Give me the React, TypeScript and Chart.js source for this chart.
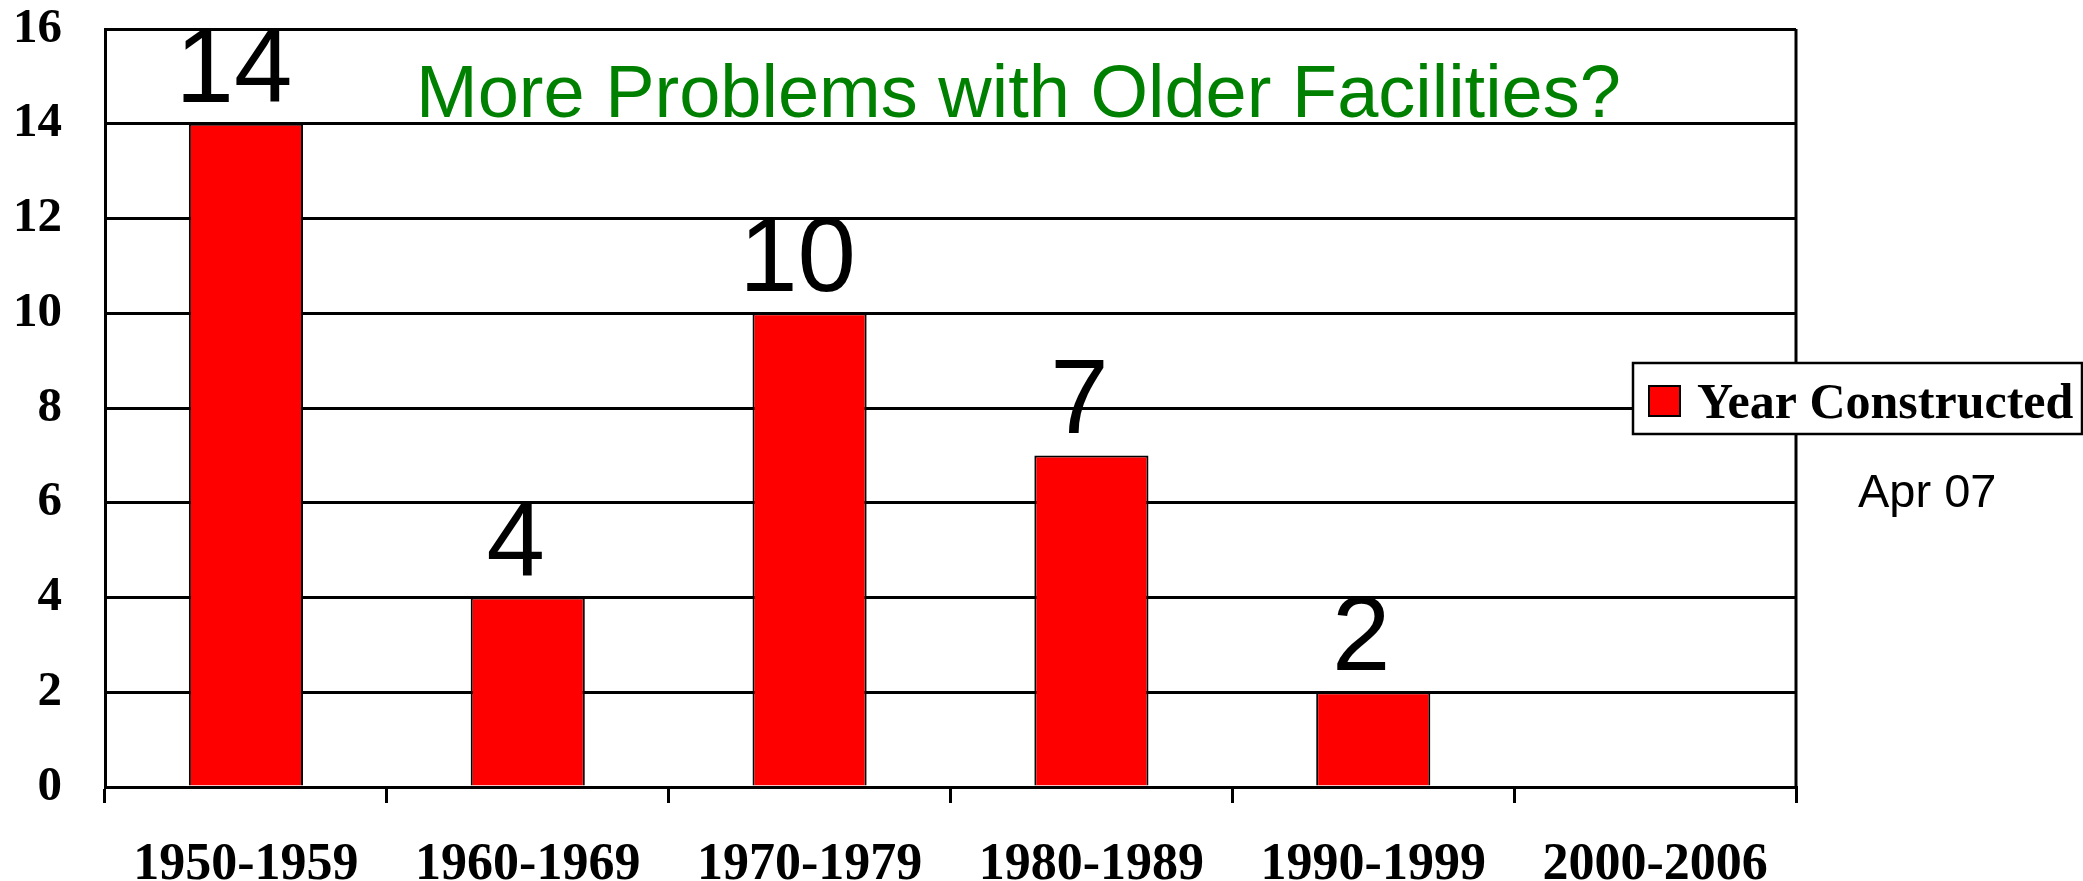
import React, { useEffect, useRef } from "react";
import { Chart, registerables } from "chart.js";

Chart.register(...registerables);

const categories = ["1950-1959", "1960-1969", "1970-1979", "1980-1989", "1990-1999", "2000-2006"];
const seriesLabel = "Year Constructed";
const values = [14, 4, 10, 7, 2, 0];
const yMin = 0;
const yMax = 16;
const yStep = 2;
const titleText = "More Problems with Older Facilities?";
const noteText = "Apr 07";

const W = 2083;
const H = 881;

const overlayPlugin = {
  id: "overlay",
  afterDatasetsDraw(chart: any) {
    const ctx = chart.ctx;
    const meta = chart.getDatasetMeta(0);
    ctx.save();
    ctx.font = '105px "Liberation Sans", Arial, sans-serif';
    ctx.textAlign = "center";
    ctx.textBaseline = "alphabetic";
    ctx.fillStyle = "#000000";
    meta.data.forEach((bar: any, i: number) => {
      const v = values[i];
      if (!v) return;
      ctx.fillText(String(v), bar.x - 12, bar.y - 22);
    });
    ctx.restore();
  },
  afterDraw(chart: any) {
    const ctx = chart.ctx;
    const a = chart.chartArea;
    ctx.save();
    // right border of plot
    ctx.strokeStyle = "#000";
    ctx.lineWidth = 3;
    ctx.beginPath();
    ctx.moveTo(a.right, a.top);
    ctx.lineTo(a.right, a.bottom);
    ctx.stroke();

    // green title
    ctx.font = '74px "Liberation Sans", Arial, sans-serif';
    ctx.fillStyle = "#008000";
    ctx.textAlign = "left";
    ctx.textBaseline = "alphabetic";
    ctx.fillText(titleText, 416, 117);

    // legend
    const lx = 1633, ly = 363, lw = 449, lh = 71;
    ctx.fillStyle = "#ffffff";
    ctx.fillRect(lx, ly, lw, lh);
    ctx.strokeStyle = "#000";
    ctx.lineWidth = 2.5;
    ctx.strokeRect(lx, ly, lw, lh);
    const ds = chart.data.datasets[0];
    ctx.fillStyle = ds.backgroundColor;
    ctx.fillRect(1649, 386, 31, 30);
    ctx.lineWidth = 2;
    ctx.strokeRect(1649, 386, 31, 30);
    ctx.fillStyle = "#000";
    ctx.font = 'bold 50px "Liberation Serif", "Times New Roman", serif';
    ctx.fillText(ds.label, 1697, 418);

    // note
    ctx.font = '47px "Liberation Sans", Arial, sans-serif';
    ctx.fillText(noteText, 1858, 507);
    ctx.restore();
  },
};

export default function App() {
  const ref = useRef<HTMLCanvasElement | null>(null);
  useEffect(() => {
    document.body.style.margin = "0";
    const canvas = ref.current!;
    const chart = new Chart(canvas, {
      type: "bar",
      data: {
        labels: categories,
        datasets: [
          {
            label: seriesLabel,
            data: values,
            backgroundColor: "#ff0000",
            borderColor: "#000000",
            borderWidth: 2,
            barPercentage: 0.405,
            categoryPercentage: 1,
          },
        ],
      },
      options: {
        responsive: false,
        animation: false,
        devicePixelRatio: 1,
        layout: { padding: { left: 0, right: 287, top: 29, bottom: 0 } },
        plugins: {
          legend: { display: false },
          tooltip: { enabled: false },
          title: { display: false },
        },
        scales: {
          x: {
            offset: true,
            grid: {
              display: true,
              drawOnChartArea: false,
              drawTicks: true,
              tickLength: 16,
              color: "#000",
              lineWidth: 3,
              offset: true,
            },
            border: { display: true, color: "#000", width: 3 },
            ticks: {
              color: "#000",
              padding: 31,
              maxRotation: 0,
              autoSkip: false,
              font: { family: '"Liberation Serif", "Times New Roman", serif', size: 52, weight: "bold", lineHeight: 1.2 },
            },
            afterFit(scale: any) {
              scale.height = 94;
            },
          },
          y: {
            min: yMin,
            max: yMax,
            grid: { color: "#000", lineWidth: 3, drawTicks: true, tickLength: 43, tickColor: "rgba(0,0,0,0)" },
            border: { display: true, color: "#000", width: 3 },
            ticks: {
              stepSize: yStep,
              color: "#000",
              padding: 0,
              font: { family: '"Liberation Serif", "Times New Roman", serif', size: 49, weight: "bold", lineHeight: 1.0 },
            },
            afterFit(scale: any) {
              scale.width = 105;
            },
          },
        },
      },
      plugins: [overlayPlugin],
    });
    return () => chart.destroy();
  }, []);
  return (
    <div style={{ width: W, height: H, background: "#fff" }}>
      <canvas ref={ref} width={W} height={H} style={{ display: "block" }} />
    </div>
  );
}
